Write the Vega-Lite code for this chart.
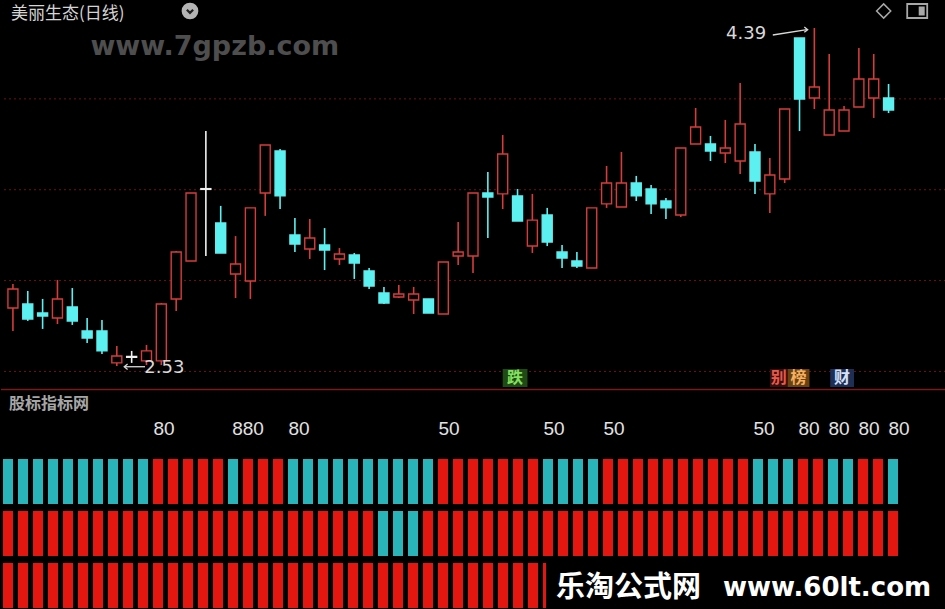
{
  "$schema": "https://vega.github.io/schema/vega-lite/v6.json",
  "background": "black",
  "padding": 0,
  "spacing": 0,
  "bounds": "flush",
  "config": {"view": {"stroke": null}},
  "datasets": {
    "k": [
      {"i":0,"o":2.849,"h":2.981,"l":2.723,"c":2.954,"d":"u"},
      {"i":1,"o":2.871,"h":2.943,"l":2.778,"c":2.789,"d":"d"},
      {"i":2,"o":2.822,"h":2.899,"l":2.734,"c":2.805,"d":"d"},
      {"i":3,"o":2.794,"h":3.003,"l":2.761,"c":2.899,"d":"u"},
      {"i":4,"o":2.855,"h":2.959,"l":2.756,"c":2.778,"d":"d"},
      {"i":5,"o":2.723,"h":2.794,"l":2.657,"c":2.684,"d":"d"},
      {"i":6,"o":2.723,"h":2.783,"l":2.596,"c":2.613,"d":"d"},
      {"i":7,"o":2.547,"h":2.640,"l":2.530,"c":2.585,"d":"u"},
      {"i":8,"o":2.578,"h":2.613,"l":2.547,"c":2.582,"d":"f"},
      {"i":9,"o":2.558,"h":2.646,"l":2.535,"c":2.613,"d":"u"},
      {"i":10,"o":2.558,"h":2.877,"l":2.535,"c":2.871,"d":"u"},
      {"i":11,"o":2.899,"h":3.163,"l":2.833,"c":3.157,"d":"u"},
      {"i":12,"o":3.108,"h":3.482,"l":3.108,"c":3.482,"d":"u"},
      {"i":13,"o":3.502,"h":3.823,"l":3.135,"c":3.506,"d":"f"},
      {"i":14,"o":3.317,"h":3.411,"l":3.152,"c":3.152,"d":"d"},
      {"i":15,"o":3.036,"h":3.245,"l":2.904,"c":3.091,"d":"u"},
      {"i":16,"o":2.998,"h":3.400,"l":2.899,"c":3.400,"d":"u"},
      {"i":17,"o":3.482,"h":3.746,"l":3.356,"c":3.746,"d":"u"},
      {"i":18,"o":3.713,"h":3.724,"l":3.394,"c":3.466,"d":"d"},
      {"i":19,"o":3.251,"h":3.344,"l":3.157,"c":3.201,"d":"d"},
      {"i":20,"o":3.174,"h":3.339,"l":3.119,"c":3.234,"d":"u"},
      {"i":21,"o":3.196,"h":3.289,"l":3.058,"c":3.168,"d":"d"},
      {"i":22,"o":3.119,"h":3.179,"l":3.086,"c":3.146,"d":"u"},
      {"i":23,"o":3.141,"h":3.152,"l":3.009,"c":3.097,"d":"d"},
      {"i":24,"o":3.053,"h":3.069,"l":2.954,"c":2.970,"d":"d"},
      {"i":25,"o":2.932,"h":2.965,"l":2.871,"c":2.877,"d":"d"},
      {"i":26,"o":2.910,"h":2.976,"l":2.904,"c":2.926,"d":"u"},
      {"i":27,"o":2.893,"h":2.965,"l":2.816,"c":2.926,"d":"u"},
      {"i":28,"o":2.899,"h":2.899,"l":2.822,"c":2.822,"d":"d"},
      {"i":29,"o":2.816,"h":3.102,"l":2.816,"c":3.102,"d":"u"},
      {"i":30,"o":3.135,"h":3.322,"l":3.086,"c":3.157,"d":"u"},
      {"i":31,"o":3.135,"h":3.482,"l":3.042,"c":3.482,"d":"u"},
      {"i":32,"o":3.482,"h":3.598,"l":3.234,"c":3.460,"d":"d"},
      {"i":33,"o":3.477,"h":3.801,"l":3.394,"c":3.697,"d":"u"},
      {"i":34,"o":3.466,"h":3.504,"l":3.328,"c":3.328,"d":"d"},
      {"i":35,"o":3.190,"h":3.477,"l":3.152,"c":3.333,"d":"u"},
      {"i":36,"o":3.361,"h":3.400,"l":3.190,"c":3.212,"d":"d"},
      {"i":37,"o":3.157,"h":3.196,"l":3.069,"c":3.124,"d":"d"},
      {"i":38,"o":3.108,"h":3.157,"l":3.069,"c":3.080,"d":"d"},
      {"i":39,"o":3.069,"h":3.400,"l":3.069,"c":3.400,"d":"u"},
      {"i":40,"o":3.422,"h":3.631,"l":3.400,"c":3.537,"d":"u"},
      {"i":41,"o":3.405,"h":3.708,"l":3.405,"c":3.537,"d":"u"},
      {"i":42,"o":3.537,"h":3.576,"l":3.438,"c":3.466,"d":"d"},
      {"i":43,"o":3.504,"h":3.526,"l":3.367,"c":3.422,"d":"d"},
      {"i":44,"o":3.438,"h":3.455,"l":3.339,"c":3.400,"d":"d"},
      {"i":45,"o":3.361,"h":3.730,"l":3.350,"c":3.730,"d":"u"},
      {"i":46,"o":3.752,"h":3.950,"l":3.752,"c":3.845,"d":"u"},
      {"i":47,"o":3.752,"h":3.796,"l":3.658,"c":3.713,"d":"d"},
      {"i":48,"o":3.702,"h":3.884,"l":3.647,"c":3.730,"d":"u"},
      {"i":49,"o":3.658,"h":4.087,"l":3.587,"c":3.862,"d":"u"},
      {"i":50,"o":3.708,"h":3.752,"l":3.477,"c":3.548,"d":"d"},
      {"i":51,"o":3.477,"h":3.675,"l":3.372,"c":3.581,"d":"u"},
      {"i":52,"o":3.559,"h":3.944,"l":3.537,"c":3.944,"d":"u"},
      {"i":53,"o":4.335,"h":4.335,"l":3.823,"c":3.999,"d":"d"},
      {"i":54,"o":4.005,"h":4.390,"l":3.944,"c":4.065,"d":"u"},
      {"i":55,"o":3.801,"h":4.247,"l":3.801,"c":3.939,"d":"u"},
      {"i":56,"o":3.823,"h":3.961,"l":3.823,"c":3.939,"d":"u"},
      {"i":57,"o":3.955,"h":4.280,"l":3.955,"c":4.109,"d":"u"},
      {"i":58,"o":4.005,"h":4.247,"l":3.895,"c":4.109,"d":"u"},
      {"i":59,"o":4.005,"h":4.082,"l":3.922,"c":3.939,"d":"d"}
    ],
    "s": [
      {"i":0,"a":"C","b":"R","c":"R"},{"i":1,"a":"C","b":"R","c":"R"},{"i":2,"a":"C","b":"R","c":"R"},{"i":3,"a":"C","b":"R","c":"R"},
      {"i":4,"a":"C","b":"R","c":"R"},{"i":5,"a":"C","b":"R","c":"R"},{"i":6,"a":"C","b":"R","c":"R"},{"i":7,"a":"C","b":"R","c":"R"},
      {"i":8,"a":"C","b":"R","c":"R"},{"i":9,"a":"C","b":"R","c":"R"},{"i":10,"a":"R","b":"R","c":"R"},{"i":11,"a":"R","b":"R","c":"R"},
      {"i":12,"a":"R","b":"R","c":"R"},{"i":13,"a":"R","b":"R","c":"R"},{"i":14,"a":"R","b":"R","c":"R"},{"i":15,"a":"C","b":"R","c":"R"},
      {"i":16,"a":"R","b":"R","c":"R"},{"i":17,"a":"R","b":"R","c":"R"},{"i":18,"a":"R","b":"R","c":"R"},{"i":19,"a":"C","b":"R","c":"R"},
      {"i":20,"a":"C","b":"R","c":"R"},{"i":21,"a":"C","b":"R","c":"R"},{"i":22,"a":"C","b":"R","c":"R"},{"i":23,"a":"C","b":"R","c":"R"},
      {"i":24,"a":"C","b":"R","c":"R"},{"i":25,"a":"C","b":"C","c":"R"},{"i":26,"a":"C","b":"C","c":"R"},{"i":27,"a":"C","b":"C","c":"R"},
      {"i":28,"a":"C","b":"R","c":"R"},{"i":29,"a":"R","b":"R","c":"R"},{"i":30,"a":"R","b":"R","c":"R"},{"i":31,"a":"R","b":"R","c":"R"},
      {"i":32,"a":"R","b":"R","c":"R"},{"i":33,"a":"R","b":"R","c":"R"},{"i":34,"a":"R","b":"R","c":"R"},{"i":35,"a":"R","b":"R","c":"R"},
      {"i":36,"a":"C","b":"R","c":"R"},{"i":37,"a":"C","b":"R","c":"R"},{"i":38,"a":"C","b":"R","c":"R"},{"i":39,"a":"C","b":"R","c":"R"},
      {"i":40,"a":"R","b":"R","c":"R"},{"i":41,"a":"R","b":"R","c":"R"},{"i":42,"a":"R","b":"R","c":"R"},{"i":43,"a":"R","b":"R","c":"R"},
      {"i":44,"a":"R","b":"R","c":"R"},{"i":45,"a":"R","b":"R","c":"R"},{"i":46,"a":"R","b":"R","c":"R"},{"i":47,"a":"R","b":"R","c":"R"},
      {"i":48,"a":"R","b":"R","c":"R"},{"i":49,"a":"R","b":"R","c":"R"},{"i":50,"a":"C","b":"R","c":"R"},{"i":51,"a":"C","b":"R","c":"R"},
      {"i":52,"a":"C","b":"R","c":"R"},{"i":53,"a":"R","b":"R","c":"R"},{"i":54,"a":"R","b":"R","c":"R"},{"i":55,"a":"C","b":"R","c":"R"},
      {"i":56,"a":"C","b":"R","c":"R"},{"i":57,"a":"R","b":"R","c":"R"},{"i":58,"a":"R","b":"R","c":"R"},{"i":59,"a":"C","b":"R","c":"R"}
    ]
  },
  "vconcat": [
    {
      "width": 945,
      "height": 390,
      "resolve": {"scale": {"fill": "independent", "color": "independent", "stroke": "independent", "shape": "independent"}},
      "layer": [
        {
          "data": {"values": [{"p": 4.0}, {"p": 3.5}, {"p": 3.0}, {"p": 2.5}]},
          "mark": {"type": "rule", "color": "#6b1414", "strokeDash": [2, 3], "strokeWidth": 1},
          "encoding": {"y": {"field": "p", "type": "quantitative", "scale": {"domain": [2.3924, 4.5386], "nice": false, "zero": false}, "axis": null}}
        },
        {
          "data": {"values": [{"p": 2.4007}]},
          "mark": {"type": "rule", "color": "#7a1a1a", "strokeWidth": 1.5},
          "encoding": {"y": {"field": "p", "type": "quantitative", "scale": {"domain": [2.3924, 4.5386], "nice": false, "zero": false}, "axis": null}}
        },
        {
          "data": {"name": "k"},
          "mark": {"type": "rule", "strokeWidth": 1.6},
          "encoding": {
            "x": {"field": "i", "type": "quantitative", "scale": {"domain": [-0.4667, 62.5333], "nice": false, "zero": false}, "axis": null},
            "y": {"field": "l", "type": "quantitative", "scale": {"domain": [2.3924, 4.5386], "nice": false, "zero": false}, "axis": null},
            "y2": {"field": "h"},
            "stroke": {"field": "d", "type": "nominal", "scale": {"domain": ["u", "d", "f"], "range": ["#d63c3c", "#5cf0f0", "#f0f0f0"]}, "legend": null}
          }
        },
        {
          "data": {"name": "k"},
          "mark": {"type": "bar", "size": 10, "strokeWidth": 1.4},
          "encoding": {
            "x": {"field": "i", "type": "quantitative", "scale": {"domain": [-0.4667, 62.5333], "nice": false, "zero": false}, "axis": null},
            "y": {"field": "o", "type": "quantitative", "scale": {"domain": [2.3924, 4.5386], "nice": false, "zero": false}, "axis": null},
            "y2": {"field": "c"},
            "fill": {"field": "d", "type": "nominal", "scale": {"domain": ["u", "d", "f"], "range": ["#000000", "#5cf0f0", "#f0f0f0"]}, "legend": null},
            "stroke": {"field": "d", "type": "nominal", "scale": {"domain": ["u", "d", "f"], "range": ["#d63c3c", "#5cf0f0", "#f0f0f0"]}, "legend": null}
          }
        },
        {
          "data": {"values": [{"x": -0.13, "p": 4.4645, "t": "美丽生态(日线)"}]},
          "mark": {"type": "text", "align": "left", "baseline": "middle", "font": "Noto Sans CJK SC", "fontSize": 17, "color": "#d4d4d4"},
          "encoding": {
            "x": {"field": "x", "type": "quantitative", "scale": {"domain": [-0.4667, 62.5333], "nice": false, "zero": false}, "axis": null},
            "y": {"field": "p", "type": "quantitative", "scale": {"domain": [2.3924, 4.5386], "nice": false, "zero": false}, "axis": null},
            "text": {"field": "t"}
          }
        },
        {
          "data": {"values": [{"x": 11.93, "p": 4.4836}]},
          "mark": {"type": "point", "shape": "circle", "filled": true, "size": 280, "color": "#b4b4b4", "opacity": 1},
          "encoding": {
            "x": {"field": "x", "type": "quantitative", "scale": {"domain": [-0.4667, 62.5333], "nice": false, "zero": false}, "axis": null},
            "y": {"field": "p", "type": "quantitative", "scale": {"domain": [2.3924, 4.5386], "nice": false, "zero": false}, "axis": null}
          }
        },
        {
          "data": {"values": [{"x": 11.93, "p": 4.4836}]},
          "mark": {"type": "point", "shape": "M-0.6,-0.25L0,0.35L0.6,-0.25", "filled": false, "size": 110, "stroke": "#222222", "strokeWidth": 2.2, "opacity": 1},
          "encoding": {
            "x": {"field": "x", "type": "quantitative", "scale": {"domain": [-0.4667, 62.5333], "nice": false, "zero": false}, "axis": null},
            "y": {"field": "p", "type": "quantitative", "scale": {"domain": [2.3924, 4.5386], "nice": false, "zero": false}, "axis": null}
          }
        },
        {
          "data": {"values": [{"x": 58.67, "p": 4.4836}]},
          "mark": {"type": "point", "shape": "diamond", "filled": false, "size": 200, "stroke": "#a8a8a8", "strokeWidth": 1.5, "opacity": 1},
          "encoding": {
            "x": {"field": "x", "type": "quantitative", "scale": {"domain": [-0.4667, 62.5333], "nice": false, "zero": false}, "axis": null},
            "y": {"field": "p", "type": "quantitative", "scale": {"domain": [2.3924, 4.5386], "nice": false, "zero": false}, "axis": null}
          }
        },
        {
          "data": {"values": [{"x": 60.93, "p": 4.4836}]},
          "mark": {"type": "point", "shape": "M-1,-0.7H1V0.7H-1Z", "filled": false, "size": 400, "stroke": "#a8a8a8", "strokeWidth": 1.8, "opacity": 1},
          "encoding": {
            "x": {"field": "x", "type": "quantitative", "scale": {"domain": [-0.4667, 62.5333], "nice": false, "zero": false}, "axis": null},
            "y": {"field": "p", "type": "quantitative", "scale": {"domain": [2.3924, 4.5386], "nice": false, "zero": false}, "axis": null}
          }
        },
        {
          "data": {"values": [{"x": 60.93, "p": 4.4836}]},
          "mark": {"type": "point", "shape": "M0.15,-0.45H0.75V0.45H0.15Z", "filled": true, "size": 400, "color": "#a8a8a8", "opacity": 1},
          "encoding": {
            "x": {"field": "x", "type": "quantitative", "scale": {"domain": [-0.4667, 62.5333], "nice": false, "zero": false}, "axis": null},
            "y": {"field": "p", "type": "quantitative", "scale": {"domain": [2.3924, 4.5386], "nice": false, "zero": false}, "axis": null}
          }
        },
        {
          "data": {"values": [{"x": 13.6, "p": 4.2855, "t": "www.7gpzb.com"}]},
          "mark": {"type": "text", "align": "center", "baseline": "middle", "font": "DejaVu Sans", "fontWeight": "bold", "fontSize": 27, "color": "#4e4e4e"},
          "encoding": {
            "x": {"field": "x", "type": "quantitative", "scale": {"domain": [-0.4667, 62.5333], "nice": false, "zero": false}, "axis": null},
            "y": {"field": "p", "type": "quantitative", "scale": {"domain": [2.3924, 4.5386], "nice": false, "zero": false}, "axis": null},
            "text": {"field": "t"}
          }
        },
        {
          "data": {"values": [{"x": 49.4, "p": 4.357, "t": "4.39"}, {"x": 10.2, "p": 2.519, "t": "2.53"}]},
          "mark": {"type": "text", "align": "center", "baseline": "middle", "font": "DejaVu Sans", "fontSize": 18, "color": "#d8d8d8"},
          "encoding": {
            "x": {"field": "x", "type": "quantitative", "scale": {"domain": [-0.4667, 62.5333], "nice": false, "zero": false}, "axis": null},
            "y": {"field": "p", "type": "quantitative", "scale": {"domain": [2.3924, 4.5386], "nice": false, "zero": false}, "axis": null},
            "text": {"field": "t"}
          }
        },
        {
          "data": {"values": [{"x": 51.2, "p": 4.3515, "x2": 53.5, "p2": 4.381}, {"x": 7.55, "p": 2.526, "x2": 8.9, "p2": 2.526}]},
          "mark": {"type": "rule", "color": "#d8d8d8", "strokeWidth": 1.3},
          "encoding": {
            "x": {"field": "x", "type": "quantitative", "scale": {"domain": [-0.4667, 62.5333], "nice": false, "zero": false}, "axis": null},
            "y": {"field": "p", "type": "quantitative", "scale": {"domain": [2.3924, 4.5386], "nice": false, "zero": false}, "axis": null},
            "x2": {"field": "x2"},
            "y2": {"field": "p2"}
          }
        },
        {
          "data": {"values": [{"x": 53.55, "p": 4.381, "s": "r"}, {"x": 7.5, "p": 2.526, "s": "l"}]},
          "mark": {"type": "point", "filled": false, "size": 45, "stroke": "#d8d8d8", "strokeWidth": 1.3, "opacity": 1},
          "encoding": {
            "x": {"field": "x", "type": "quantitative", "scale": {"domain": [-0.4667, 62.5333], "nice": false, "zero": false}, "axis": null},
            "y": {"field": "p", "type": "quantitative", "scale": {"domain": [2.3924, 4.5386], "nice": false, "zero": false}, "axis": null},
            "shape": {"field": "s", "type": "nominal", "scale": {"domain": ["r", "l"], "range": ["M-1,-0.8L0,0L-1,0.8", "M1,-0.8L0,0L1,0.8"]}, "legend": null}
          }
        },
        {
          "data": {"values": [
            {"x0": 33.0, "x1": 34.67, "p0": 2.4145, "p1": 2.5135, "k": "g"},
            {"x0": 51.0, "x1": 52.2, "p0": 2.4145, "p1": 2.5135, "k": "r"},
            {"x0": 52.2, "x1": 53.67, "p0": 2.4145, "p1": 2.5135, "k": "o"},
            {"x0": 55.07, "x1": 56.67, "p0": 2.4145, "p1": 2.5135, "k": "b"}
          ]},
          "mark": {"type": "rect"},
          "encoding": {
            "x": {"field": "x0", "type": "quantitative", "scale": {"domain": [-0.4667, 62.5333], "nice": false, "zero": false}, "axis": null},
            "x2": {"field": "x1"},
            "y": {"field": "p0", "type": "quantitative", "scale": {"domain": [2.3924, 4.5386], "nice": false, "zero": false}, "axis": null},
            "y2": {"field": "p1"},
            "fill": {"field": "k", "type": "nominal", "scale": {"domain": ["g", "r", "o", "b"], "range": ["#1f4a14", "#3a0e0e", "#6a4212", "#1e2f55"]}, "legend": null}
          }
        },
        {
          "data": {"values": [
            {"x": 33.83, "p": 2.464, "t": "跌", "k": "g"},
            {"x": 51.6, "p": 2.464, "t": "别", "k": "r"},
            {"x": 52.93, "p": 2.464, "t": "榜", "k": "o"},
            {"x": 55.87, "p": 2.464, "t": "财", "k": "b"}
          ]},
          "mark": {"type": "text", "align": "center", "baseline": "middle", "font": "Noto Sans CJK SC", "fontSize": 16, "fontWeight": "bold"},
          "encoding": {
            "x": {"field": "x", "type": "quantitative", "scale": {"domain": [-0.4667, 62.5333], "nice": false, "zero": false}, "axis": null},
            "y": {"field": "p", "type": "quantitative", "scale": {"domain": [2.3924, 4.5386], "nice": false, "zero": false}, "axis": null},
            "text": {"field": "t"},
            "color": {"field": "k", "type": "nominal", "scale": {"domain": ["g", "r", "o", "b"], "range": ["#84e060", "#e85a4a", "#f5b060", "#d4e0f8"]}, "legend": null}
          }
        }
      ]
    },
    {
      "width": 945,
      "height": 26,
      "data": {"values": [{"x": 0.07, "t": "股标指标网"}]},
      "mark": {"type": "text", "align": "left", "baseline": "middle", "font": "Noto Sans CJK SC", "fontWeight": "bold", "fontSize": 16, "color": "#a6a6a6"},
      "encoding": {
        "x": {"field": "x", "type": "quantitative", "scale": {"domain": [-0.4667, 62.5333], "nice": false, "zero": false}, "axis": null},
        "text": {"field": "t"}
      }
    },
    {
      "width": 945,
      "height": 24,
      "data": {"values": [
        {"x": 10.4, "t": "80"}, {"x": 16.0, "t": "880"}, {"x": 19.4, "t": "80"},
        {"x": 29.4, "t": "50"}, {"x": 36.4, "t": "50"}, {"x": 40.4, "t": "50"}, {"x": 50.4, "t": "50"},
        {"x": 53.4, "t": "80"}, {"x": 55.4, "t": "80"}, {"x": 57.4, "t": "80"}, {"x": 59.4, "t": "80"}
      ]},
      "mark": {"type": "text", "align": "center", "baseline": "middle", "font": "Liberation Sans", "fontSize": 19, "color": "#e2e2e2"},
      "encoding": {
        "x": {"field": "x", "type": "quantitative", "scale": {"domain": [-0.4667, 62.5333], "nice": false, "zero": false}, "axis": null},
        "text": {"field": "t"}
      }
    },
    {
      "width": 945,
      "height": 169,
      "layer": [
        {
          "data": {"name": "s"},
          "transform": [{"fold": ["a", "b", "c"], "as": ["row", "v"]}],
          "mark": {"type": "tick", "thickness": 10, "size": 45, "filled": true, "opacity": 1},
          "encoding": {
            "x": {"field": "i", "type": "quantitative", "scale": {"domain": [-0.4667, 62.5333], "nice": false, "zero": false}, "axis": null},
            "y": {"field": "row", "type": "nominal", "scale": {"type": "band", "domain": ["a", "b", "c"], "paddingInner": 0.135, "paddingOuter": 0.1925, "align": 0.9}, "axis": null},
            "color": {"field": "v", "type": "nominal", "scale": {"domain": ["R", "C"], "range": ["#e3170f", "#28b4b9"]}, "legend": null}
          }
        },
        {
          "data": {"values": [{"x0": 35.87, "x1": 62.53, "row": "c"}]},
          "mark": {"type": "rect", "color": "#000000", "opacity": 1},
          "encoding": {
            "x": {"field": "x0", "type": "quantitative", "scale": {"domain": [-0.4667, 62.5333], "nice": false, "zero": false}, "axis": null},
            "x2": {"field": "x1"},
            "y": {"field": "row", "type": "nominal", "scale": {"type": "band", "domain": ["a", "b", "c"], "paddingInner": 0.135, "paddingOuter": 0.1925, "align": 0.9}, "axis": null}
          }
        },
        {
          "data": {"values": [{"x": 36.53, "row": "c", "t": "乐淘公式网"}]},
          "mark": {"type": "text", "align": "left", "baseline": "middle", "dy": 2, "font": "Noto Sans CJK SC", "fontWeight": "bold", "fontSize": 29, "color": "#ffffff"},
          "encoding": {
            "x": {"field": "x", "type": "quantitative", "scale": {"domain": [-0.4667, 62.5333], "nice": false, "zero": false}, "axis": null},
            "y": {"field": "row", "type": "nominal", "scale": {"type": "band", "domain": ["a", "b", "c"], "paddingInner": 0.135, "paddingOuter": 0.1925, "align": 0.9}, "axis": null},
            "text": {"field": "t"}
          }
        },
        {
          "data": {"values": [{"x": 47.67, "row": "c", "t": "www.60lt.com"}]},
          "mark": {"type": "text", "align": "left", "baseline": "middle", "dy": 2, "font": "DejaVu Sans", "fontWeight": "bold", "fontSize": 26, "color": "#ffffff"},
          "encoding": {
            "x": {"field": "x", "type": "quantitative", "scale": {"domain": [-0.4667, 62.5333], "nice": false, "zero": false}, "axis": null},
            "y": {"field": "row", "type": "nominal", "scale": {"type": "band", "domain": ["a", "b", "c"], "paddingInner": 0.135, "paddingOuter": 0.1925, "align": 0.9}, "axis": null},
            "text": {"field": "t"}
          }
        }
      ]
    }
  ]
}
